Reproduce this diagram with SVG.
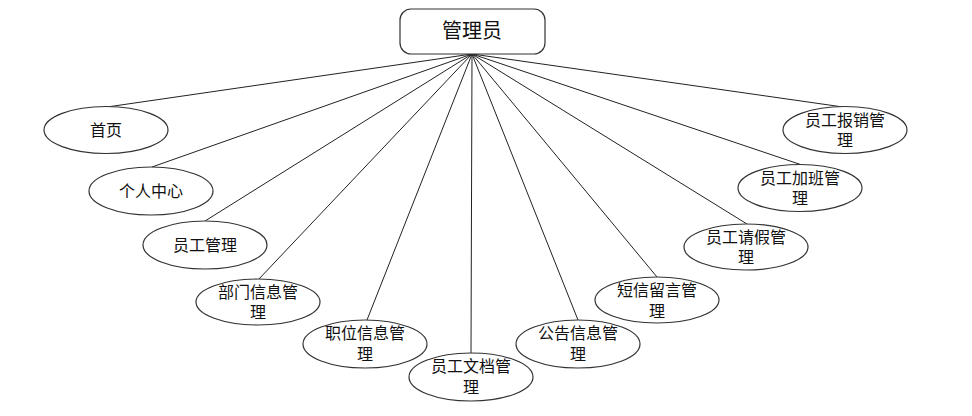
<svg xmlns="http://www.w3.org/2000/svg" width="972" height="416" viewBox="0 0 972 416">
<style>
.n{fill:#fff;stroke:#333;stroke-width:1.2}
.t{font-family:"Liberation Sans","Noto Sans CJK SC",sans-serif;font-size:16px;fill:#111;text-anchor:middle;dominant-baseline:central}
.c line{stroke:#222;stroke-width:1}
</style>
<rect width="972" height="416" fill="#fff"/>
<g class="c">
<line x1="472" y1="54" x2="107" y2="107"/>
<line x1="472" y1="54" x2="152" y2="167"/>
<line x1="472" y1="54" x2="205" y2="221"/>
<line x1="472" y1="54" x2="258" y2="280"/>
<line x1="472" y1="54" x2="367" y2="320"/>
<line x1="472" y1="54" x2="471" y2="353"/>
<line x1="472" y1="54" x2="578" y2="320"/>
<line x1="472" y1="54" x2="657" y2="277"/>
<line x1="472" y1="54" x2="747" y2="224"/>
<line x1="472" y1="54" x2="802" y2="165"/>
<line x1="472" y1="54" x2="843" y2="107"/>
</g>
<g id="admin"><rect class="n" x="400" y="9" width="145" height="45" rx="11"/><text class="t" x="472" y="31" style="font-size:20px">管理员</text></g>
<g id="n1"><ellipse class="n" cx="106" cy="130" rx="62" ry="23.5"/><text class="t" x="106" y="130">首页</text></g>
<g id="n2"><ellipse class="n" cx="151" cy="191" rx="62" ry="24"/><text class="t" x="151" y="191">个人中心</text></g>
<g id="n3"><ellipse class="n" cx="205" cy="245" rx="62" ry="24"/><text class="t" x="205" y="245">员工管理</text></g>
<g id="n4"><ellipse class="n" cx="258" cy="302" rx="62" ry="23"/><text class="t" x="258" y="292">部门信息管</text><text class="t" x="258" y="312">理</text></g>
<g id="n5"><ellipse class="n" cx="365" cy="344" rx="62" ry="24"/><text class="t" x="365" y="333">职位信息管</text><text class="t" x="365" y="354">理</text></g>
<g id="n6"><ellipse class="n" cx="471" cy="377" rx="62" ry="24"/><text class="t" x="471" y="366">员工文档管</text><text class="t" x="471" y="387">理</text></g>
<g id="n7"><ellipse class="n" cx="578" cy="344" rx="62" ry="24"/><text class="t" x="578" y="333">公告信息管</text><text class="t" x="578" y="354">理</text></g>
<g id="n8"><ellipse class="n" cx="657" cy="300" rx="62" ry="23"/><text class="t" x="657" y="290">短信留言管</text><text class="t" x="657" y="311">理</text></g>
<g id="n9"><ellipse class="n" cx="746" cy="247" rx="62" ry="23"/><text class="t" x="746" y="237">员工请假管</text><text class="t" x="746" y="257">理</text></g>
<g id="n10"><ellipse class="n" cx="800" cy="188" rx="62" ry="23.5"/><text class="t" x="800" y="178">员工加班管</text><text class="t" x="800" y="198">理</text></g>
<g id="n11"><ellipse class="n" cx="845" cy="130" rx="62" ry="23.5"/><text class="t" x="845" y="120">员工报销管</text><text class="t" x="845" y="140">理</text></g>
</svg>
